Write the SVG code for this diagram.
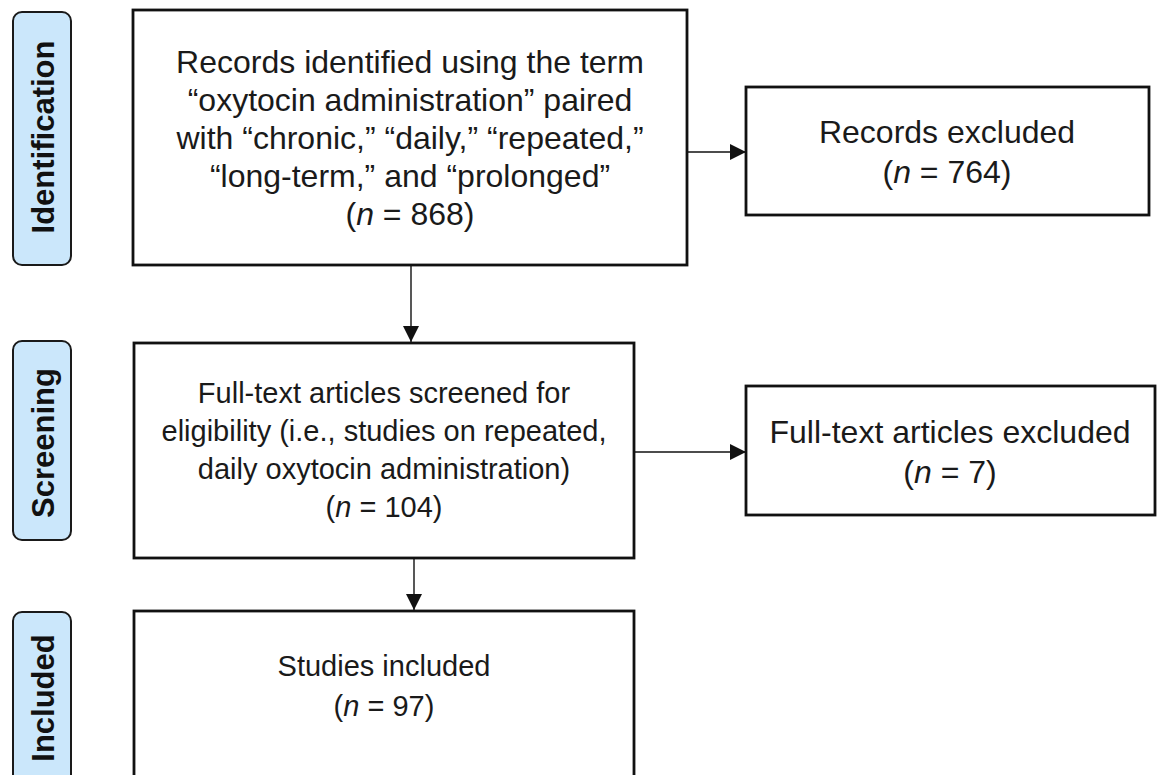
<svg xmlns="http://www.w3.org/2000/svg" width="1157" height="775" viewBox="0 0 1157 775">
<defs>
<style>
.box{fill:#fff;stroke:#111;stroke-width:2.8}
.pill{fill:#cbe7fb;stroke:#1a1a1a;stroke-width:2}
.t{font-family:"Liberation Sans",Arial,sans-serif;font-size:29px;fill:#1a1a1a;text-anchor:middle}
.big{font-size:32px}
.lab{font-family:"Liberation Sans",Arial,sans-serif;font-size:31px;font-weight:bold;fill:#111;text-anchor:middle;dominant-baseline:central}
.c{stroke:#111;stroke-width:1.4;fill:none}
.it{font-style:italic}
</style>
<marker id="ah" markerUnits="userSpaceOnUse" markerWidth="16" markerHeight="16" viewBox="0 0 16 16" refX="16" refY="8" orient="auto">
<path d="M0,0 L16,8 L0,16 Z" fill="#111"/>
</marker>
</defs>
<rect width="1157" height="775" fill="#fff"/>

<g id="label-identification">
<rect class="pill" x="13" y="12" width="58" height="253" rx="9"/>
<text class="lab" transform="translate(43,137) rotate(-90)">Identification</text>
</g>
<g id="label-screening">
<rect class="pill" x="13" y="341" width="58" height="199" rx="9"/>
<text class="lab" transform="translate(43,443) rotate(-90)">Screening</text>
</g>
<g id="label-included">
<rect class="pill" x="13" y="612" width="58" height="180" rx="9"/>
<text class="lab" transform="translate(43,698) rotate(-90)">Included</text>
</g>

<g id="connectors">
<line class="c" x1="687" y1="152" x2="746" y2="152" marker-end="url(#ah)"/>
<line class="c" x1="411" y1="265" x2="411" y2="342" marker-end="url(#ah)"/>
<line class="c" x1="634" y1="452" x2="746" y2="452" marker-end="url(#ah)"/>
<line class="c" x1="414" y1="558" x2="414" y2="610" marker-end="url(#ah)"/>
</g>

<g id="node-records-identified">
<rect class="box" x="133" y="10" width="554" height="255"/>
<text class="t big" x="410" y="73">Records identified using the term</text>
<text class="t big" x="410" y="111">“oxytocin administration” paired</text>
<text class="t big" x="410" y="149">with “chronic,” “daily,” “repeated,”</text>
<text class="t big" x="410" y="187">“long-term,” and “prolonged”</text>
<text class="t big" x="410" y="225">(<tspan class="it">n</tspan> = 868)</text>
</g>

<g id="node-records-excluded">
<rect class="box" x="746" y="87" width="403" height="128"/>
<text class="t big" x="947" y="143">Records excluded</text>
<text class="t big" x="947" y="183">(<tspan class="it">n</tspan> = 764)</text>
</g>

<g id="node-fulltext-screened">
<rect class="box" x="134" y="343" width="500" height="215"/>
<text class="t" x="384" y="403">Full-text articles screened for</text>
<text class="t" x="384" y="441">eligibility (i.e., studies on repeated,</text>
<text class="t" x="384" y="479">daily oxytocin administration)</text>
<text class="t" x="384" y="517">(<tspan class="it">n</tspan> = 104)</text>
</g>

<g id="node-fulltext-excluded">
<rect class="box" x="746" y="386" width="409" height="129"/>
<text class="t big" x="950" y="443">Full-text articles excluded</text>
<text class="t big" x="950" y="483">(<tspan class="it">n</tspan> = 7)</text>
</g>

<g id="node-studies-included">
<rect class="box" x="134" y="611" width="500" height="190"/>
<text class="t" x="384" y="676">Studies included</text>
<text class="t" x="384" y="716">(<tspan class="it">n</tspan> = 97)</text>
</g>
</svg>
